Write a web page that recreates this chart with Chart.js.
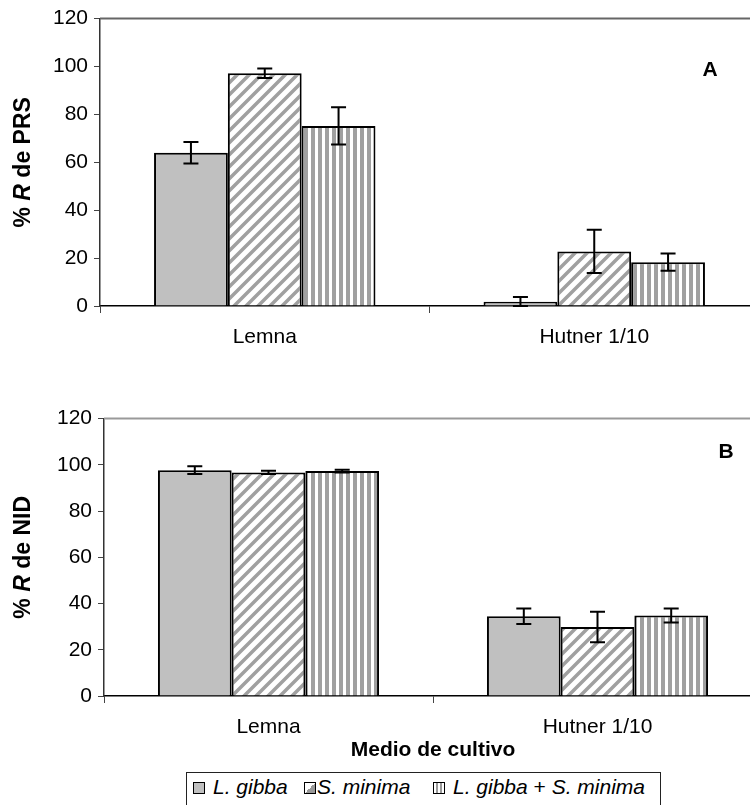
<!DOCTYPE html>
<html>
<head>
<meta charset="utf-8">
<script src="https://cdn.jsdelivr.net/npm/chart.js@4/dist/chart.umd.min.js"></script>
<style>
    html, body { margin: 0; padding: 0; background: #fff; width: 750px; height: 805px; overflow: hidden; }
    #wrapA { position: absolute; left: 0; top: 0; }
    #wrapB { position: absolute; left: 0; top: 400px; }
    .legend {
        position: absolute; left: 186px; top: 772px; width: 475px; height: 40px;
        border: 1px solid #222; box-sizing: border-box;
        font-family: "Liberation Sans", Arial, sans-serif; font-size: 21px; color: #000;
    }
    .legend .sw { position: absolute; top: 9px; width: 12px; height: 12px; border: 1.5px solid #000; box-sizing: border-box; }
    .legend .tx { position: absolute; top: 2px; white-space: nowrap; }
    .sw1 { background: #c0c0c0; }
    .sw2 { background: linear-gradient(-45deg, #999 0 50%, #fff 50% 100%); }
    .sw3 { background: repeating-linear-gradient(90deg, #fff 0 2px, #999 2px 4px); }
</style>
</head>
<body>
<div id="wrapA"><canvas id="chartA" width="760" height="350"></canvas></div>
<div id="wrapB"><canvas id="chartB" width="763" height="365"></canvas></div>
<div class="legend">
    <span class="sw sw1" style="left:6px"></span><span class="tx" style="left:26px"><i>L. gibba</i></span>
    <span class="sw sw2" style="left:117px"></span><span class="tx" style="left:130px"><i>S. minima</i></span>
    <span class="sw sw3" style="left:246px"></span><span class="tx" style="left:266px"><i>L. gibba</i> + <i>S. minima</i></span>
</div>
<script>
(function () {
    'use strict';

    var categories = ['Lemna', 'Hutner 1/10'];
    var seriesNames = ['L. gibba', 'S. minima', 'L. gibba + S. minima'];

    // panel A: % R de PRS
    var prsGibba = [64.0, 1.8];
    var prsMinima = [97.2, 22.8];
    var prsMix = [75.2, 18.3];
    var prsGibbaErr = [4.5, 2.0];
    var prsMinimaErr = [2.0, 9.0];
    var prsMixErr = [7.8, 3.6];

    // panel B: % R de NID
    var nidGibba = [97.7, 34.5];
    var nidMinima = [96.7, 29.8];
    var nidMix = [97.3, 34.8];
    var nidGibbaErr = [1.7, 3.3];
    var nidMinimaErr = [0.7, 6.6];
    var nidMixErr = [0.6, 3.0];

    var yMin = 0, yMax = 120, yStep = 20;

    var FONT = '"Liberation Sans", Arial, sans-serif';

    function diagonalPattern(ctx) {
        var c = document.createElement('canvas');
        c.width = 12; c.height = 12;
        var g = c.getContext('2d');
        g.fillStyle = '#fff';
        g.fillRect(0, 0, 12, 12);
        g.strokeStyle = '#a0a0a0';
        g.lineWidth = 3.5;
        g.beginPath();
        g.moveTo(-3, 15); g.lineTo(15, -3);
        g.moveTo(-9, 9); g.lineTo(9, -9);
        g.moveTo(3, 21); g.lineTo(21, 3);
        g.stroke();
        return ctx.createPattern(c, 'repeat');
    }

    function verticalPattern(ctx) {
        var c = document.createElement('canvas');
        c.width = 7; c.height = 7;
        var g = c.getContext('2d');
        g.fillStyle = '#fff';
        g.fillRect(0, 0, 7, 7);
        g.fillStyle = '#a0a0a0';
        g.fillRect(3, 0, 4, 7);
        return ctx.createPattern(c, 'repeat');
    }

    var errorBars = {
        id: 'errorBars',
        afterDatasetsDraw: function (chart) {
            var ctx = chart.ctx;
            var y = chart.scales.y;
            ctx.save();
            ctx.strokeStyle = '#000';
            ctx.lineWidth = 2;
            chart.data.datasets.forEach(function (ds, i) {
                var meta = chart.getDatasetMeta(i);
                meta.data.forEach(function (bar, j) {
                    var v = ds.data[j], e = ds.errors[j];
                    var top = y.getPixelForValue(v + e);
                    var bot = y.getPixelForValue(Math.max(0, v - e));
                    ctx.beginPath();
                    ctx.moveTo(bar.x, top); ctx.lineTo(bar.x, bot);
                    ctx.moveTo(bar.x - 7.5, top); ctx.lineTo(bar.x + 7.5, top);
                    ctx.moveTo(bar.x - 7.5, bot); ctx.lineTo(bar.x + 7.5, bot);
                    ctx.stroke();
                });
            });
            ctx.restore();
        }
    };

    var decorations = {
        id: 'decorations',
        afterDraw: function (chart, args, opts) {
            var ctx = chart.ctx;
            var area = chart.chartArea;
            ctx.save();
            // top frame line
            ctx.strokeStyle = opts.topColor;
            ctx.lineWidth = 2;
            ctx.beginPath();
            ctx.moveTo(area.left, area.top);
            ctx.lineTo(chart.width, area.top);
            ctx.stroke();

            // panel letter
            ctx.fillStyle = '#000';
            ctx.font = 'bold 21px ' + FONT;
            ctx.textAlign = 'center';
            ctx.textBaseline = 'middle';
            ctx.fillText(opts.letter, area.right - opts.letterDx, area.top + opts.letterDy);

            // y title with italic R
            var parts = [
                { t: '% ', f: 'bold 23px ' + FONT },
                { t: 'R', f: 'italic bold 23px ' + FONT },
                { t: ' de ' + opts.yName, f: 'bold 23px ' + FONT }
            ];
            var total = 0;
            parts.forEach(function (p) { ctx.font = p.f; p.w = ctx.measureText(p.t).width; total += p.w; });
            ctx.translate(opts.titleX, (area.top + area.bottom) / 2);
            ctx.rotate(-Math.PI / 2);
            ctx.textAlign = 'left';
            var x = -total / 2;
            parts.forEach(function (p) { ctx.font = p.f; ctx.fillText(p.t, x, 0); x += p.w; });
            ctx.restore();
        }
    };

    function makeChart(id, values, errs, cfg) {
        var canvas = document.getElementById(id);
        var ctx = canvas.getContext('2d');
        var fills = ['#c0c0c0', diagonalPattern(ctx), verticalPattern(ctx)];
        var datasets = [];
        for (var i = 0; i < seriesNames.length; i++) {
            datasets.push({
                label: seriesNames[i],
                data: values[i],
                errors: errs[i],
                backgroundColor: fills[i],
                borderColor: '#000',
                borderWidth: 2,
                categoryPercentage: 0.672,
                barPercentage: 1.0
            });
        }
        return new Chart(ctx, {
            type: 'bar',
            data: { labels: categories, datasets: datasets },
            options: {
                responsive: false,
                animation: false,
                layout: { padding: { top: cfg.padTop, right: 1, left: 0, bottom: 0 } },
                plugins: {
                    legend: { display: false },
                    tooltip: { enabled: false },
                    decorations: cfg.deco
                },
                scales: {
                    x: {
                        type: 'category',
                        offset: true,
                        afterFit: function (s) { s.height = cfg.xHeight; },
                        grid: { display: true, drawOnChartArea: false, offset: true, tickLength: 7, color: '#444', lineWidth: 1 },
                        border: { color: '#000', width: 1.5 },
                        ticks: { color: '#000', padding: 12, font: { family: FONT, size: 21 } },
                        title: cfg.xTitle
                    },
                    y: {
                        min: yMin,
                        max: yMax,
                        afterFit: function (s) { s.width = cfg.yWidth; },
                        grid: { display: true, drawOnChartArea: false, tickLength: 6, color: '#444', lineWidth: 1 },
                        border: { color: '#333', width: 1.5 },
                        ticks: { stepSize: yStep, color: '#000', padding: 6, font: { family: FONT, size: 21 } }
                    }
                }
            },
            plugins: [errorBars, decorations]
        });
    }

    makeChart('chartA',
        [prsGibba, prsMinima, prsMix],
        [prsGibbaErr, prsMinimaErr, prsMixErr],
        {
            padTop: 16, xHeight: 44, yWidth: 100,
            xTitle: { display: false },
            deco: { letter: 'A', letterDx: 49, letterDy: 52, yName: 'PRS', titleX: 24, topColor: '#666' }
        });

    makeChart('chartB',
        [nidGibba, nidMinima, nidMix],
        [nidGibbaErr, nidMinimaErr, nidMixErr],
        {
            padTop: 14, xHeight: 69, yWidth: 104,
            xTitle: {
                display: true, text: 'Medio de cultivo', color: '#000',
                padding: { top: 0, bottom: 2 },
                font: { family: FONT, size: 21, weight: 'bold' }
            },
            deco: { letter: 'B', letterDx: 36, letterDy: 34, yName: 'NID', titleX: 24, topColor: '#999' }
        });
})();
</script>
</body>
</html>
